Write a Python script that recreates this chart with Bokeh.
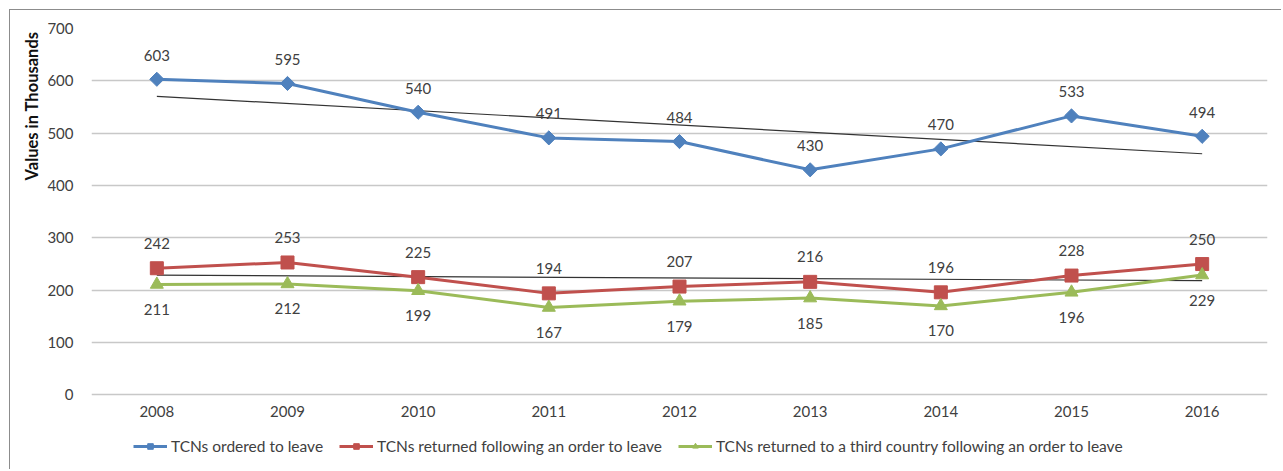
import numpy as np
from bokeh.plotting import figure
from bokeh.models import (ColumnDataSource, Range1d, FixedTicker, Legend, LegendItem,
                          LabelSet, Title)
from bokeh.embed import file_html
from bokeh.resources import INLINE
from bokeh.core.properties import value

years = [2008, 2009, 2010, 2011, 2012, 2013, 2014, 2015, 2016]
ordered = [603, 595, 540, 491, 484, 430, 470, 533, 494]
returned = [242, 253, 225, 194, 207, 216, 196, 228, 250]
third = [211, 212, 199, 167, 179, 185, 170, 196, 229]
y_ticks = [0, 100, 200, 300, 400, 500, 600, 700]
names = ["TCNs ordered to leave",
         "TCNs returned following an order to leave",
         "TCNs returned to a third country following an order to leave"]

BLUE = "#4F81BD"
RED = "#C0504D"
GREEN = "#9BBB59"
TXT = "#404040"
FONT = "Lato"

# frame extends below the value axis so that category labels and legend fit inside it
p = figure(width=1272, height=460, output_backend="svg", toolbar_location=None,
           x_range=Range1d(2007.5, 2016.5), y_range=Range1d(-144.4, 700),
           x_axis_location=None,
           min_border_left=81, min_border_right=15, min_border_top=18,
           min_border_bottom=0)
p.styles = {"border-top": "1.5px solid #8c8c8c", "border-left": "1.5px solid #8c8c8c",
            "margin-top": "9px", "margin-left": "9px"}
p.outline_line_color = None
p.background_fill_color = "white"
p.border_fill_color = "white"

p.xgrid.grid_line_color = None
p.ygrid.grid_line_color = "#C8C8C8"
p.ygrid.grid_line_width = 1.5
p.ygrid.ticker = FixedTicker(ticks=y_ticks)

p.yaxis.ticker = FixedTicker(ticks=y_ticks)
ax = p.yaxis[0]
ax.axis_line_color = None
ax.major_tick_line_color = None
ax.minor_tick_line_color = None
ax.major_label_text_font = FONT
ax.major_label_text_font_size = "15px"
ax.major_label_text_color = TXT
ax.major_label_standoff = 12

src = ColumnDataSource(dict(x=years, a=ordered, b=returned, c=third,
                            base=[0] * len(years),
                            yl=[str(v) for v in years],
                            la=[str(v) for v in ordered],
                            lb=[str(v) for v in returned],
                            lc=[str(v) for v in third]))

# trend lines (linear fits)
xs = np.array(years, dtype=float)
for ser in (ordered, returned):
    k, m = np.polyfit(xs, np.array(ser, dtype=float), 1)
    p.line([xs[0], xs[-1]], [k * xs[0] + m, k * xs[-1] + m],
           line_color="#333333", line_width=1.2)

la = p.line("x", "a", source=src, line_color=BLUE, line_width=3)
ma = p.scatter("x", "a", source=src, marker="square", angle=np.pi / 4, size=10,
               fill_color=BLUE, line_color=BLUE)
lb = p.line("x", "b", source=src, line_color=RED, line_width=3)
mb = p.scatter("x", "b", source=src, marker="square", size=13, fill_color=RED,
               line_color=RED)
lc = p.line("x", "c", source=src, line_color=GREEN, line_width=3)
mc = p.scatter("x", "c", source=src, marker="triangle", size=13, fill_color=GREEN,
               line_color=GREEN)

for col, lab, off in (("a", "la", 24), ("b", "lb", 25), ("c", "lc", -25),
                      ("base", "yl", -17)):
    ls = LabelSet(x="x", y=col, text=lab, source=src, y_offset=off,
                  text_align="center", text_baseline="middle",
                  text_font=value(FONT), text_font_size="15px", text_color=TXT)
    p.add_layout(ls)

title = Title(text="Values in Thousands", align="right", offset=3, standoff=6,
              text_font=FONT, text_font_size="16.5px", text_font_style="bold",
              text_color="#111111")
p.add_layout(title, "left")

legend = Legend(items=[LegendItem(label=names[0], renderers=[la, ma]),
                       LegendItem(label=names[1], renderers=[lb, mb]),
                       LegendItem(label=names[2], renderers=[lc, mc])],
                orientation="horizontal", location=(42, 15),
                glyph_width=34, glyph_height=14, label_standoff=4, spacing=16,
                padding=4, margin=0,
                label_text_font=FONT, label_text_font_size="15.5px",
                label_text_color=TXT, background_fill_alpha=0,
                border_line_color=None)
p.add_layout(legend, "center")

open("out.html", "w").write(file_html(p, INLINE))
